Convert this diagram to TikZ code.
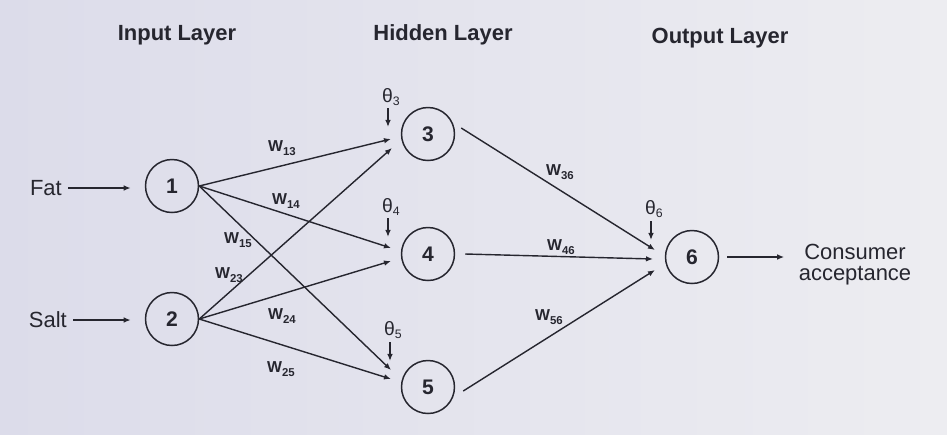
\documentclass[tikz,border=0pt]{standalone}
\usepackage{fontspec}
\setmainfont{Liberation Sans}
\usetikzlibrary{arrows.meta,calc}
\definecolor{ink}{HTML}{26262F}
\definecolor{bgl}{HTML}{DCDCEA}
\definecolor{bgr}{HTML}{EDEDF1}
\tikzset{
  neuron/.style={draw=ink, line width=0.85pt, circle, minimum size=1.06cm, inner sep=0pt, font=\bfseries\fontsize{12}{14}\selectfont, text=ink},
  conn/.style={draw=ink, line width=0.8pt, -{Latex[length=4pt,width=3.2pt]}},
  header/.style={font=\bfseries\fontsize{12.5}{15}\selectfont, text=ink},
  plain/.style={font=\fontsize{12.5}{15}\selectfont, text=ink},
  wlab/.style={font=\bfseries\fontsize{9}{10}\selectfont, text=ink, inner sep=0pt},
  blab/.style={font=\fontsize{11}{12}\selectfont, text=ink, inner sep=0pt}
}
\newcommand{\wl}[1]{W\raisebox{-2.5pt}{\fontsize{6.5}{7}\selectfont #1}}
\newcommand{\bl}[1]{θ\raisebox{-2pt}{\fontsize{7}{8}\selectfont #1}}
\begin{document}
\begin{tikzpicture}[x=0.02cm,y=-0.02cm]
\shade[left color=bgl, right color=bgr] (0,0) rectangle (947,434);
\useasboundingbox (0,0) rectangle (947,434);

% headers
\node[header] (hin) at (177,35) {Input Layer};
\node[header] (hhid) at (443,35) {Hidden Layer};
\node[header] (hout) at (720,38) {Output Layer};

% neurons
\node[neuron] (n1) at (172,186) {1};
\node[neuron] (n2) at (172,319) {2};
\node[neuron] (n3) at (428,134) {3};
\node[neuron] (n4) at (428,254) {4};
\node[neuron] (n5) at (428,387) {5};
\node[neuron] (n6) at (692,257) {6};

% inputs
\node[plain, anchor=east] (fat) at (68,188) {Fat};
\node[plain, anchor=east] (salt) at (73,320) {Salt};
\draw[conn] (fat.east) -- ($(n1.west)+(-14,2)$);
\draw[conn] (salt.east) -- ($(n2.west)+(-14,1)$);

% output
\node[plain, align=center] (out) at (855,265) {Consumer\\[-3pt]acceptance};
\draw[conn] ($(n6.east)+(8,0)$) -- ($(n6.east)+(65,0)$);

% arrow tip coordinates
\coordinate (t3a) at (391,139);
\coordinate (t3b) at (392,148);
\coordinate (t4a) at (391,248);
\coordinate (t4b) at (391,261);
\coordinate (t5a) at (391,370);
\coordinate (t5b) at (391,379);
\coordinate (t6a) at (655,250);
\coordinate (t6b) at (653,259);
\coordinate (t6c) at (655,270);

% input -> hidden
\draw[conn] (n1.east) -- (t3a);
\draw[conn] (n1.east) -- (t4a);
\draw[conn] (n1.east) -- (t5a);
\draw[conn] (n2.east) -- (t3b);
\draw[conn] (n2.east) -- (t4b);
\draw[conn] (n2.east) -- (t5b);

% hidden -> output
\draw[conn] ($(n3.east)+(6,-6)$) -- (t6a);
\draw[conn] ($(n4.east)+(10,0)$) -- (t6b);
\draw[conn] ($(n5.east)+(8,4)$) -- (t6c);

% biases
\node[blab] (b3) at (391,97) {\bl{3}};
\node[blab] (b4) at (391,207) {\bl{4}};
\node[blab] (b5) at (393,330) {\bl{5}};
\node[blab] (b6) at (654,209) {\bl{6}};
\coordinate (bt3) at (388,127);
\coordinate (bt4) at (388,237);
\coordinate (bt5) at (390,361);
\coordinate (bt6) at (651,240);
\draw[conn] ($(bt3)+(0,-19)$) -- (bt3);
\draw[conn] ($(bt4)+(0,-19)$) -- (bt4);
\draw[conn] ($(bt5)+(0,-19)$) -- (bt5);
\draw[conn] ($(bt6)+(0,-19)$) -- (bt6);

% weight labels
\node[wlab] (w13) at (282,148) {\wl{13}};
\node[wlab] (w14) at (286,201) {\wl{14}};
\node[wlab] (w15) at (238,240) {\wl{15}};
\node[wlab] (w23) at (229,275) {\wl{23}};
\node[wlab] (w24) at (282,316) {\wl{24}};
\node[wlab] (w25) at (281,369) {\wl{25}};
\node[wlab] (w36) at (560,172) {\wl{36}};
\node[wlab] (w46) at (561,247) {\wl{46}};
\node[wlab] (w56) at (549,317) {\wl{56}};
\end{tikzpicture}
\end{document}
